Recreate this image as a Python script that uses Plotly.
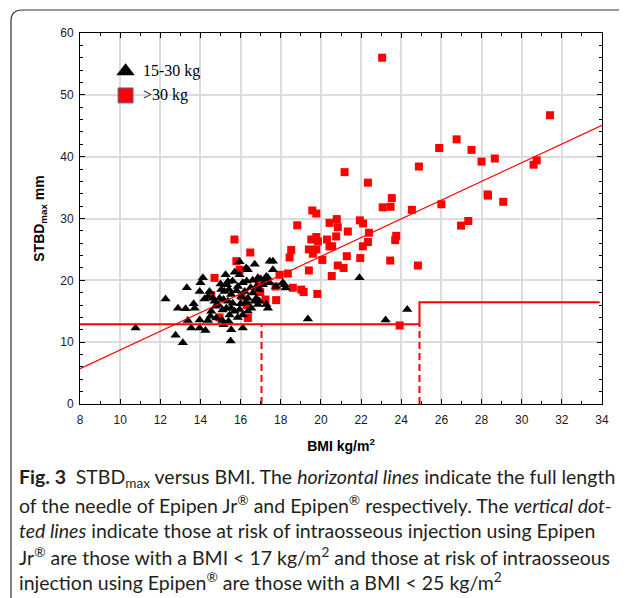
import plotly.graph_objects as go

# ---------------- data ----------------
# >30 kg group (red squares): BMI (kg/m2), STBDmax (mm)
red_bmi = [23.05, 31.41, 26.76, 25.89, 27.5, 24.88, 28.0, 28.66, 30.59, 30.75,
           21.18, 22.34, 28.3, 28.32, 29.08, 26.0, 23.53, 23.08, 23.47, 24.53,
           27.34, 26.98, 19.57, 19.77, 18.82, 20.43, 20.79, 20.84, 21.94, 22.1,
           21.34, 22.39, 22.34, 22.09, 23.75, 23.7, 19.52, 19.85, 19.77, 20.3,
           20.43, 20.76, 20.56, 19.4, 19.77, 19.6, 18.52, 18.44, 20.07, 21.29,
           21.96, 23.45, 24.83, 20.84, 21.13, 19.4, 20.54, 18.35, 18.6, 19.02,
           19.14, 19.82, 23.92, 15.69, 16.48, 15.79, 15.95, 14.7, 17.94, 17.24,
           17.77, 16.36, 14.95, 14.54, 16.9, 16.98, 17.74, 16.05, 16.3]
red_stbd = [56.0, 46.7, 42.8, 41.4, 41.1, 38.4, 39.2, 39.7, 38.7, 39.4,
            37.5, 35.8, 33.9, 33.7, 32.7, 32.3, 33.3, 31.8, 31.9, 31.4,
            29.6, 28.85, 31.3, 30.8, 28.9, 29.3, 29.9, 28.6, 29.7, 29.2,
            27.9, 27.7, 26.2, 25.5, 27.2, 26.5, 26.6, 26.3, 27.0, 26.6,
            25.5, 27.1, 25.5, 25.0, 25.0, 24.3, 24.9, 23.7, 23.3, 23.9,
            23.6, 23.2, 22.4, 22.4, 22.0, 21.6, 20.7, 21.1, 18.8, 18.5,
            18.1, 17.8, 12.7, 26.6, 24.5, 23.1, 21.7, 20.4, 20.9, 16.9,
            16.8, 13.9, 14.0, 17.6, 19.4, 18.1, 19.0, 17.4, 16.0]

# 15-30 kg group (black triangles)
blk_bmi = [10.77, 12.26, 12.88, 13.26, 13.37, 13.54, 12.76, 13.12, 13.32, 13.66,
           13.71, 13.96, 13.96, 14.25, 14.37, 14.12, 14.0, 13.96, 14.45, 14.37,
           14.62, 14.7, 14.75, 14.54, 14.79, 15.09, 15.15, 15.25, 15.37, 15.32,
           15.04, 15.2, 15.42, 15.53, 14.95, 15.15, 15.37, 15.61, 15.29, 15.53,
           15.7, 15.45, 15.86, 15.53, 15.5, 15.95, 15.7, 15.95, 16.28, 16.36,
           16.7, 16.11, 15.86, 16.2, 16.03, 16.36, 16.28, 15.95, 16.11, 16.36,
           16.53, 16.11, 16.86, 16.78, 16.61, 16.91, 17.11, 16.78, 16.7, 16.94,
           16.86, 17.28, 17.36, 17.45, 17.61, 17.61, 17.28, 17.45, 17.28, 17.36,
           17.77, 18.1, 18.19, 18.24, 21.92, 19.35, 23.22, 24.3, 14.2, 14.9,
           15.1, 15.8, 16.5, 16.0, 15.0, 16.6, 14.5, 15.4, 16.3, 17.0, 15.6]
blk_stbd = [12.3, 17.0, 15.5, 15.4, 13.5, 12.3, 11.1, 9.9, 18.8, 16.2,
            15.5, 13.6, 12.3, 11.9, 13.5, 20.4, 19.6, 18.2, 18.2, 17.4,
            17.1, 16.6, 15.8, 15.0, 13.9, 13.5, 12.8, 20.9, 19.8, 19.3,
            18.5, 18.2, 18.5, 17.7, 17.1, 16.9, 16.6, 16.3, 15.5, 15.5,
            15.0, 14.4, 14.0, 12.0, 10.2, 23.0, 21.3, 20.9, 22.0, 21.7,
            22.6, 19.6, 19.0, 18.2, 17.4, 17.1, 16.4, 15.3, 14.4, 15.0,
            15.5, 12.3, 20.4, 19.0, 17.95, 18.5, 19.3, 17.1, 16.6, 16.6,
            16.1, 20.6, 20.4, 23.1, 23.1, 21.7, 19.8, 19.6, 16.1, 15.5,
            19.0, 19.6, 19.3, 18.75, 20.4, 13.75, 13.6, 15.3, 17.0, 16.0,
            15.2, 18.3, 18.8, 16.2, 19.4, 20.0, 14.2, 13.4, 19.9, 20.2, 19.9]

# regression line end points (BMI, STBDmax)
fit_bmi = [8, 34]
fit_stbd = [5.71, 45.07]

# needle lengths: Epipen Jr 12.88 mm up to BMI 24.91, Epipen 16.44 mm beyond
needle_bmi = [8, 24.91, 24.91, 33.88]
needle_stbd = [12.88, 12.88, 16.44, 16.44]

# vertical dotted risk limits
risk_jr_bmi = [17.04, 17.04]
risk_jr_stbd = [0, 12.88]
risk_ep_bmi = [24.91, 24.91]
risk_ep_stbd = [0, 12.88]

legend_labels = ["15-30 kg", ">30 kg"]
legend_bmi = [10.27, 10.27]
legend_stbd = [53.8, 49.9]

x_ticks = list(range(8, 35, 2))
y_ticks = list(range(0, 61, 10))

caption_lines = [
    "<b>Fig. 3</b>\u2002STBD<sub>max</sub> versus BMI. The <i>horizontal lines</i> indicate the full length",
    "of the needle of Epipen Jr<sup>®</sup> and Epipen<sup>®</sup> respectively. The <i>vertical dot-</i>",
    "<i>ted lines</i> indicate those at risk of intraosseous injection using Epipen",
    "Jr<sup>®</sup> are those with a BMI &lt; 17 kg/m<sup>2</sup> and those at risk of intraosseous",
    "injection using Epipen<sup>®</sup> are those with a BMI &lt; 25 kg/m<sup>2</sup>",
]

# ---------------- figure ----------------
# The page body has an 8px margin, so the figure is 8px smaller and all
# reference pixel positions are shifted by -8.
OFF = 8
W, H = 627 - OFF, 598 - OFF
ML, MR, MT, MB = 80 - OFF, 25, 33 - OFF, 194
PW, PH = W - ML - MR, H - MT - MB

def px2paper(px, py):
    return (px - OFF - ML) / PW, (H - MB - (py - OFF)) / PH

RED = "#ff0000"
fig = go.Figure()

fig.add_trace(go.Scatter(x=red_bmi, y=red_stbd, mode="markers", name=">30 kg",
                         marker=dict(symbol="square", size=8, color=RED, line=dict(width=0)),
                         showlegend=False))
fig.add_trace(go.Scatter(x=blk_bmi, y=blk_stbd, mode="markers", name="15-30 kg",
                         marker=dict(symbol="triangle-up", size=9, color="#000000", line=dict(width=0)),
                         showlegend=False))

fig.add_trace(go.Scatter(x=fit_bmi, y=fit_stbd, mode="lines", line=dict(color=RED, width=1.2),
                         showlegend=False, hoverinfo="skip"))
fig.add_trace(go.Scatter(x=needle_bmi, y=needle_stbd, mode="lines", line=dict(color=RED, width=2),
                         showlegend=False, hoverinfo="skip"))
for xs, ys in [(risk_jr_bmi, risk_jr_stbd), (risk_ep_bmi, risk_ep_stbd)]:
    fig.add_trace(go.Scatter(x=xs, y=ys, mode="lines",
                             line=dict(color=RED, width=2, dash="7px,4px"),
                             showlegend=False, hoverinfo="skip"))

# legend markers drawn in the plot
fig.add_trace(go.Scatter(x=[legend_bmi[0]], y=[legend_stbd[0]], mode="markers",
                         marker=dict(symbol="triangle-up", size=16, color="#000000"),
                         showlegend=False, hoverinfo="skip"))
fig.add_trace(go.Scatter(x=[legend_bmi[1]], y=[legend_stbd[1]], mode="markers",
                         marker=dict(symbol="square", size=15, color=RED,
                                     line=dict(color="#5a6f9a", width=1)),
                         showlegend=False, hoverinfo="skip"))

annotations = []
for lab, lx, ly in zip(legend_labels, legend_bmi, legend_stbd):
    annotations.append(dict(x=lx, y=ly, xref="x", yref="y", text=lab, showarrow=False,
                            xanchor="left", yanchor="middle", xshift=15,
                            font=dict(family="Liberation Serif", size=16, color="#000000")))

line_y = [478, 504, 530, 556, 581]
for txt, py in zip(caption_lines, line_y):
    ax, ay = px2paper(17, py)
    annotations.append(dict(x=ax, y=ay, xref="paper", yref="paper", text=txt, showarrow=False,
                            xanchor="left", yanchor="middle",
                            font=dict(family="Lato", size=19.5, color="#231f20")))

# figure frame (rounded top-left corner)
x0, y0 = px2paper(11, 610)
x1, y1 = px2paper(11, 21)
xc, yc = px2paper(11, 10)
x2, y2 = px2paper(22, 10)
x3, y3 = px2paper(640, 10)
frame_path = f"M {x0},{y0} L {x1},{y1} Q {xc},{yc} {x2},{y2} L {x3},{y3}"

axis_font = dict(family="Liberation Sans", size=12, color="#1a1a1a")
common = dict(showline=True, linecolor="#000000", linewidth=1, mirror="ticks",
              ticks="inside", ticklen=5, tickcolor="#000000", tickwidth=1,
              showgrid=True, gridcolor="#dcdcdc", gridwidth=1.5, zeroline=False,
              tickfont=axis_font)

fig.update_layout(
    width=W, height=H,
    margin=dict(l=ML, r=MR, t=MT, b=MB),
    paper_bgcolor="#ffffff", plot_bgcolor="#ffffff",
    xaxis=dict(range=[8, 34], tickvals=x_ticks, ticklabelstandoff=5, **common,
               minor=dict(ticks="inside", ticklen=3, dtick=1, tick0=8, tickcolor="#000000", showgrid=False),
               title=dict(text="<b>BMI kg/m<sup>2</sup></b>", standoff=14,
                          font=dict(family="Liberation Sans", size=14, color="#000000"))),
    yaxis=dict(range=[0, 60], tickvals=y_ticks, ticklabelstandoff=3, **common,
               minor=dict(ticks="inside", ticklen=3, dtick=2, tick0=0, tickcolor="#000000", showgrid=False),
               title=dict(text="<b>STBD<sub>max</sub> mm</b>", standoff=12,
                          font=dict(family="Liberation Sans", size=14, color="#000000"))),
    annotations=annotations,
    shapes=[dict(type="path", xref="paper", yref="paper", path=frame_path,
                 line=dict(color="#333333", width=1.2))],
    showlegend=False,
)

fig.write_html("out.html")
